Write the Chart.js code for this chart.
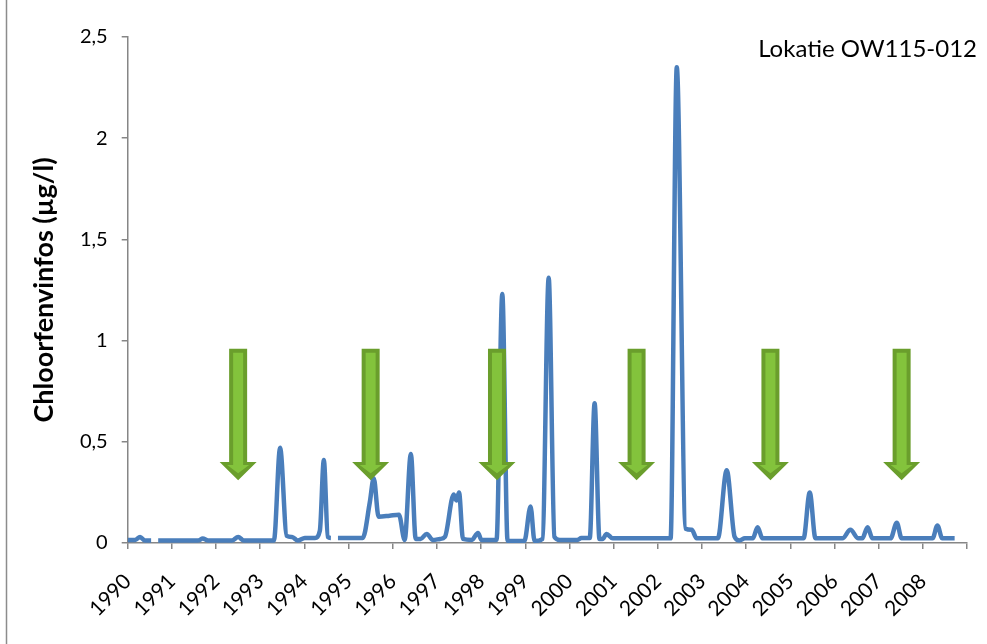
<!DOCTYPE html>
<html>
<head>
<meta charset="utf-8">
<script src="https://cdn.jsdelivr.net/npm/chart.js@4.4.1/dist/chart.umd.min.js"></script>
<style>
  html, body { margin: 0; padding: 0; background: #ffffff; }
  #wrap { width: 987px; height: 644px; position: relative; }
</style>
</head>
<body>
<div id="wrap"><canvas id="c" width="987" height="644"></canvas></div>
<script>
// Sampling moments (decimal years); null values mark missing measurements
const sampleYears = [
  1990.00, 1990.17, 1990.28, 1990.39, 1990.53, 1990.61, 1990.69, 1991.59, 1991.70, 1991.82,
  1992.36, 1992.50, 1992.63, 1993.31, 1993.45, 1993.60, 1993.72, 1993.85, 1994.01, 1994.24,
  1994.35, 1994.44, 1994.53, 1994.60, 1994.68, 1994.76, 1995.32, 1995.48, 1995.57, 1995.68,
  1995.93, 1996.14, 1996.27, 1996.41, 1996.52, 1996.63, 1996.77, 1996.91, 1997.07, 1997.18,
  1997.38, 1997.44, 1997.50, 1997.59, 1997.79, 1997.93, 1998.01, 1998.35, 1998.48, 1998.60,
  1998.98, 1999.12, 1999.21, 1999.39, 1999.53, 1999.66, 1999.78, 2000.18, 2000.27, 2000.46,
  2000.57, 2000.68, 2000.75, 2000.84, 2000.98, 2002.29, 2002.43, 2002.63, 2002.77, 2002.88,
  2003.36, 2003.56, 2003.74, 2003.85, 2003.97, 2004.15, 2004.26, 2004.37, 2005.30, 2005.44,
  2005.57, 2006.18, 2006.36, 2006.54, 2006.63, 2006.75, 2006.86, 2007.27, 2007.41, 2007.52,
  2008.22, 2008.33, 2008.44, 2008.72
];

// Chloorfenvinfos concentration (µg/l)
const concentrations = [
  0.015, 0.015, 0.03, 0.012, 0.012, null, 0.012, 0.012, 0.022, 0.012,
  0.012, 0.03, 0.012, 0.012, 0.47, 0.035, 0.03, 0.012, 0.025, 0.025,
  0.06, 0.41, 0.03, 0.025, null, 0.025, 0.025, 0.20, 0.32, 0.13,
  0.135, 0.14, 0.015, 0.44, 0.02, 0.02, 0.045, 0.015, 0.02, 0.03,
  0.24, 0.21, 0.25, 0.02, 0.015, 0.05, 0.015, 0.015, 1.23, 0.01,
  0.01, 0.18, 0.01, 0.02, 1.31, 0.03, 0.015, 0.015, 0.025, 0.025,
  0.69, 0.02, 0.02, 0.045, 0.023, 0.023, 2.35, 0.07, 0.065, 0.023,
  0.023, 0.36, 0.03, 0.012, 0.023, 0.023, 0.078, 0.023, 0.023, 0.25,
  0.023, 0.023, 0.065, 0.023, 0.023, 0.078, 0.023, 0.023, 0.10, 0.023,
  0.023, 0.086, 0.023, 0.023
];

const xTickLabels = ['1990', '1991', '1992', '1993', '1994', '1995', '1996', '1997', '1998', '1999',
                     '2000', '2001', '2002', '2003', '2004', '2005', '2006', '2007', '2008'];
const yTickLabels = ['0', '0,5', '1', '1,5', '2', '2,5'];

// Moments marked with a downward arrow
const arrowYears = [1992.5, 1995.5, 1998.36, 2001.52, 2004.55, 2007.52];
const arrowTopValue = 0.96;
const arrowHeadValue = 0.40;
const arrowTipValue = 0.31;

const locationLabel = 'Lokatie OW115-012';
const yAxisTitle = 'Chloorfenvinfos (µg/l)';

const FONT = 'Lato, "Open Sans", sans-serif';

const points = sampleYears.map((x, i) => ({ x: x, y: concentrations[i] }));

// Downward arrows and the location caption, drawn on top of the series
const overlayPlugin = {
  id: 'overlay',
  afterDatasetsDraw(chart) {
    const { ctx, scales: { x, y } } = chart;
    ctx.save();
    arrowYears.forEach(yr => {
      const cx = x.getPixelForValue(yr);
      const top = y.getPixelForValue(arrowTopValue);
      const head = y.getPixelForValue(arrowHeadValue);
      const tip = y.getPixelForValue(arrowTipValue);
      const sw = 9, hw = 18.5;
      ctx.beginPath();
      ctx.moveTo(cx - sw, top);
      ctx.lineTo(cx + sw, top);
      ctx.lineTo(cx + sw, head);
      ctx.lineTo(cx + hw, head);
      ctx.lineTo(cx, tip);
      ctx.lineTo(cx - hw, head);
      ctx.lineTo(cx - sw, head);
      ctx.closePath();
      ctx.fillStyle = '#6a9e2c';
      ctx.fill();
      // lighter inner body
      const isw = 5, ihw = 11;
      ctx.beginPath();
      ctx.moveTo(cx - isw, top + 4);
      ctx.lineTo(cx + isw, top + 4);
      ctx.lineTo(cx + isw, head + 3);
      ctx.lineTo(cx + ihw, head + 3);
      ctx.lineTo(cx, tip - 7);
      ctx.lineTo(cx - ihw, head + 3);
      ctx.lineTo(cx - isw, head + 3);
      ctx.closePath();
      ctx.fillStyle = '#83c33c';
      ctx.fill();
    });
    ctx.fillStyle = '#000000';
    ctx.font = '24px ' + FONT;
    ctx.textAlign = 'right';
    ctx.textBaseline = 'alphabetic';
    ctx.fillText(locationLabel, 977, 57);
    ctx.restore();
  },
  beforeDraw(chart) {
    const { ctx } = chart;
    ctx.save();
    ctx.fillStyle = '#ffffff';
    ctx.fillRect(0, 0, chart.width, chart.height);
    ctx.strokeStyle = '#8c8c8c';
    ctx.lineWidth = 1.5;
    ctx.beginPath();
    ctx.moveTo(6.5, 0);
    ctx.lineTo(6.5, chart.height);
    ctx.stroke();
    ctx.restore();
  }
};

new Chart(document.getElementById('c'), {
  type: 'line',
  data: {
    datasets: [{
      data: points,
      borderColor: '#4a7ebb',
      borderWidth: 4.5,
      pointRadius: 0,
      fill: false,
      spanGaps: false,
      cubicInterpolationMode: 'monotone'
    }]
  },
  options: {
    responsive: false,
    animation: false,
    devicePixelRatio: 1,
    layout: { padding: { left: 0, right: 20, top: 37, bottom: 0 } },
    plugins: { legend: { display: false }, tooltip: { enabled: false } },
    scales: {
      x: {
        type: 'linear',
        min: 1990,
        max: 2009,
        afterFit(scale) {
          scale.height = 101;
          scale.paddingLeft = 0;
          scale.paddingRight = 0;
        },
        border: { color: '#868686', width: 1.5 },
        grid: { drawOnChartArea: false, color: '#868686', tickLength: 6, lineWidth: 1.5 },
        ticks: {
          stepSize: 1,
          autoSkip: false,
          minRotation: 45,
          maxRotation: 45,
          padding: 20,
          color: '#000000',
          font: { family: FONT, size: 21 },
          callback: (v, i) => xTickLabels[i] !== undefined ? xTickLabels[i] : ''
        }
      },
      y: {
        min: 0,
        max: 2.5,
        afterFit(scale) { scale.width = 127.7; },
        border: { color: '#868686', width: 1.5 },
        grid: { drawOnChartArea: false, color: '#868686', tickLength: 6, lineWidth: 1.5 },
        ticks: {
          stepSize: 0.5,
          padding: 14,
          color: '#000000',
          font: { family: FONT, size: 20 },
          callback: (v, i) => yTickLabels[i]
        },
        title: {
          display: true,
          text: yAxisTitle,
          color: '#000000',
          font: { family: FONT, size: 27, weight: 'bold' },
          padding: { top: 28, bottom: 0 }
        }
      }
    }
  },
  plugins: [overlayPlugin]
});
</script>
</body>
</html>
